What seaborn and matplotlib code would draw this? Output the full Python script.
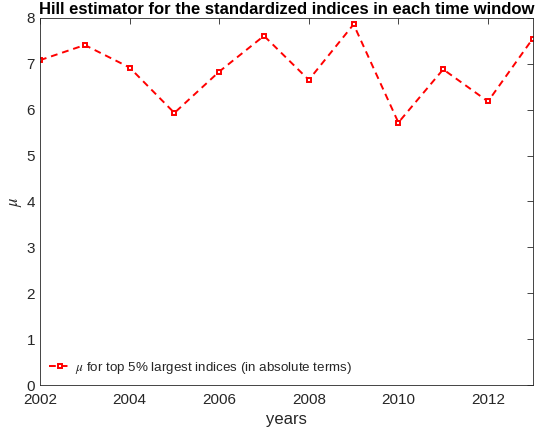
import numpy as np
import pandas as pd
import matplotlib
matplotlib.use('Agg')
import matplotlib.pyplot as plt
import seaborn as sns

years = [2002, 2003, 2004, 2005, 2006, 2007, 2008, 2009, 2010, 2011, 2012, 2013]
mu_values = [7.08, 7.41, 6.92, 5.93, 6.83, 7.61, 6.65, 7.86, 5.72, 6.88, 6.18, 7.55]
legend_label = '$\\mu$ for top 5% largest indices (in absolute terms)'

sns.set_style('white')
plt.rcParams['font.family'] = ['Liberation Sans', 'DejaVu Sans']
plt.rcParams['mathtext.fontset'] = 'stix'

df = pd.DataFrame({'year': years, 'mu': mu_values})

fig = plt.figure(figsize=(5.5, 4.38), dpi=100)
ax = fig.add_axes([0.0727, 0.121, 0.896, 0.838])

sns.lineplot(data=df, x='year', y='mu', ax=ax, color='red',
             linewidth=1.4, marker='s', markersize=3.5, markerfacecolor='white',
             markeredgecolor='red', markeredgewidth=1.4, label=legend_label)
ax.lines[0].set_dashes((3.5, 2.5))

ax.set_xlim(2002, 2013)
ax.set_ylim(0, 8)
ax.set_xticks(range(2002, 2013, 2))
ax.set_yticks(range(0, 9))
ax.tick_params(direction='in', top=True, right=True, length=4, width=0.6,
               labelsize=11, colors='#262626')
ax.tick_params(axis='x', pad=6)
for s in ax.spines.values():
    s.set_color('#262626')
    s.set_linewidth(0.6)

ax.set_xlabel('years', fontsize=12, color='#262626', labelpad=3)
ax.set_ylabel('$\\mu$', fontsize=12, color='#262626', labelpad=2)
ax.set_title('Hill estimator for the standardized indices in each time window',
             fontsize=12, fontweight='bold', pad=3, color='black')

leg = ax.legend(loc='lower left', frameon=False, fontsize=9.6, handlelength=1.6,
                handletextpad=0.3, borderaxespad=0.3)
leg.get_lines()[0].set_dashes((3.5, 2.5))

fig.savefig('out.png', dpi=100)
